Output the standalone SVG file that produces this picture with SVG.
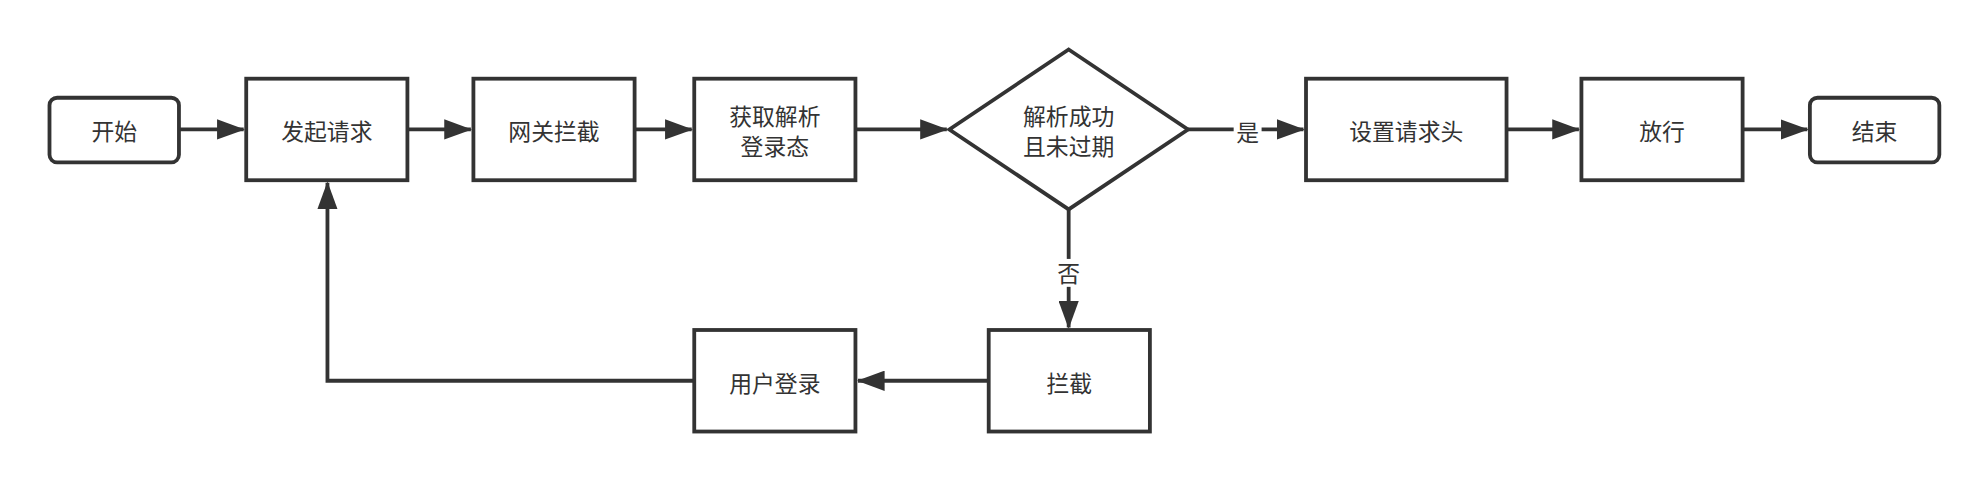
<svg xmlns="http://www.w3.org/2000/svg" width="1980" height="480" viewBox="0 0 1980 480">
<style>
.n{fill:#fff;stroke:#333;stroke-width:3}
.t{font-family:"Noto Sans CJK SC","Noto Sans",sans-serif;font-size:18px;fill:#333;text-anchor:middle;dominant-baseline:central}
.e{fill:none;stroke:#333;stroke-width:3}
.l{font-family:"Noto Sans CJK SC","Noto Sans",sans-serif;font-size:18px;fill:#333;text-anchor:middle;dominant-baseline:central}
</style>
<defs><marker id="a" viewBox="0 0 22 16" refX="21" refY="8" markerWidth="22" markerHeight="16" markerUnits="userSpaceOnUse" orient="auto"><path d="M0,0L22,8L0,16Z" fill="#333"/></marker></defs>
<rect width="1980" height="480" fill="#fff"/>
<g transform="scale(1.2692)">
<g id="connectors">
<path class="e" d="M141,102H192" marker-end="url(#a)"/>
<path class="e" d="M321,102H371" marker-end="url(#a)"/>
<path class="e" d="M500,102H545" marker-end="url(#a)"/>
<path class="e" d="M674,102H746" marker-end="url(#a)"/>
<path class="e" d="M936,102H1027" marker-end="url(#a)"/>
<path class="e" d="M1187,102H1244" marker-end="url(#a)"/>
<path class="e" d="M1373,102H1424" marker-end="url(#a)"/>
<path class="e" d="M842,165V258" marker-end="url(#a)"/>
<path class="e" d="M779,300H676" marker-end="url(#a)"/>
<path class="e" d="M547,300H258V144" marker-end="url(#a)"/>
<rect x="972" y="92" width="22" height="22" fill="#fff"/>
<text class="l" x="983" y="104">是</text>
<rect x="831" y="204" width="22" height="22" fill="#fff"/>
<text class="l" x="842" y="215">否</text>
</g>
<g id="start"><rect class="n" x="39" y="77" width="102" height="51" rx="6"/><text class="t" x="90" y="103">开始</text></g>
<g id="request"><rect class="n" x="194" y="62" width="127" height="80"/><text class="t" x="257.5" y="103">发起请求</text></g>
<g id="gateway"><rect class="n" x="373" y="62" width="127" height="80"/><text class="t" x="436.5" y="103">网关拦截</text></g>
<g id="parse"><rect class="n" x="547" y="62" width="127" height="80"/><text class="t" x="610.5" y="91">获取解析</text><text class="t" x="610.5" y="115">登录态</text></g>
<g id="decision"><path class="n" d="M842,39L936,102L842,165L748,102Z"/><text class="t" x="842" y="91">解析成功</text><text class="t" x="842" y="115">且未过期</text></g>
<g id="header"><rect class="n" x="1029" y="62" width="158" height="80"/><text class="t" x="1108" y="103">设置请求头</text></g>
<g id="pass"><rect class="n" x="1246" y="62" width="127" height="80"/><text class="t" x="1309.5" y="103">放行</text></g>
<g id="end"><rect class="n" x="1426" y="77" width="102" height="51" rx="6"/><text class="t" x="1477" y="103">结束</text></g>
<g id="block"><rect class="n" x="779" y="260" width="127" height="80"/><text class="t" x="842.5" y="301">拦截</text></g>
<g id="login"><rect class="n" x="547" y="260" width="127" height="80"/><text class="t" x="610.5" y="301">用户登录</text></g>
</g>
</svg>
